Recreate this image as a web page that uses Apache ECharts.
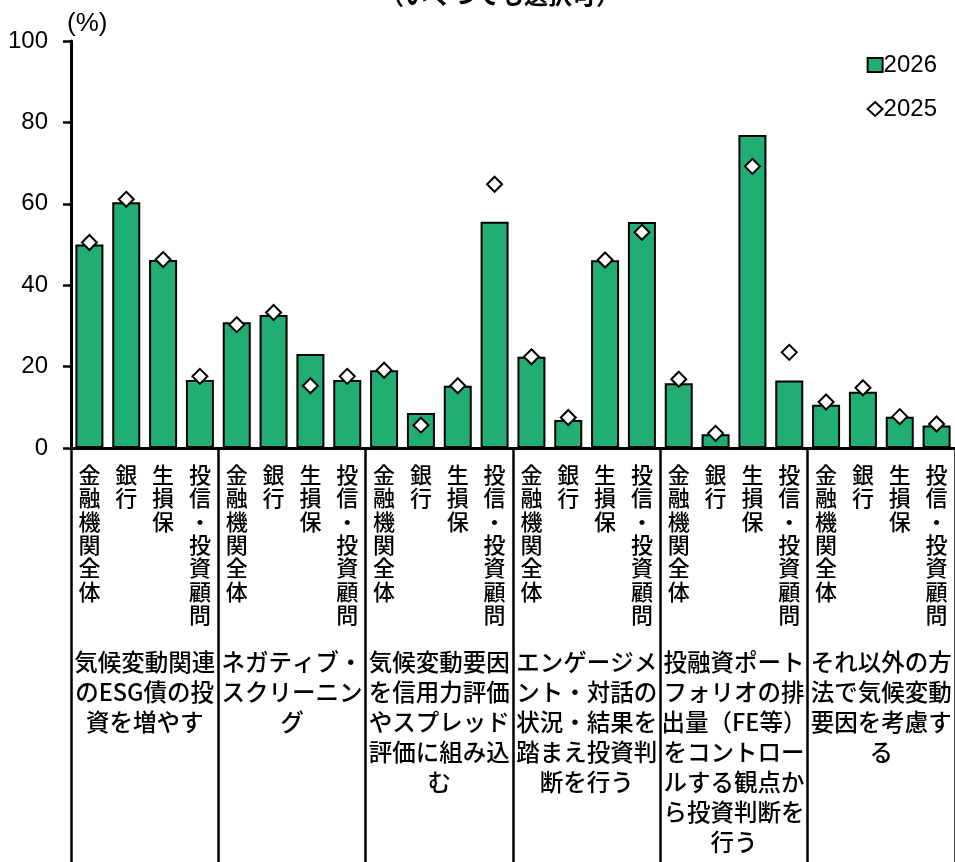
<!DOCTYPE html>
<html>
<head>
<meta charset="utf-8">
<script src="https://cdn.jsdelivr.net/npm/echarts@6/dist/echarts.min.js"></script>
<style>
html,body{margin:0;padding:0;background:#fff;}
#chart{width:955px;height:862px;}
</style>
</head>
<body>
<div id="chart"></div>
<script>
var titleText = '（いくつでも選択可）';
var subCategories = ['金融機関全体', '銀行', '生損保', '投信・投資顧問'];
var groups = [
  '気候変動関連\nのESG債の投\n資を増やす',
  'ネガティブ・\nスクリーニン\nグ',
  '気候変動要因\nを信用力評価\nやスプレッド\n評価に組み込\nむ',
  'エンゲージメ\nント・対話の\n状況・結果を\n踏まえ投資判\n断を行う',
  '投融資ポート\nフォリオの排\n出量（FE等）\nをコントロー\nルする観点か\nら投資判断を\n行う',
  'それ以外の方\n法で気候変動\n要因を考慮す\nる'
];
var values2026 = [50.0, 60.4, 46.2, 16.7,
                  30.9, 32.7, 23.1, 16.7,
                  19.1, 8.6, 15.3, 55.6,
                  22.4, 6.9, 46.1, 55.5,
                  15.9, 3.4, 76.9, 16.6,
                  10.6, 13.8, 7.7, 5.5];
var values2025 = [50.5, 61.1, 46.3, 17.6,
                  30.3, 33.3, 15.3, 17.6,
                  19.1, 5.6, 15.3, 64.8,
                  22.4, 7.5, 46.2, 53.0,
                  16.9, 3.6, 69.2, 23.5,
                  11.3, 14.8, 7.7, 5.9];
var yTicks = [0, 20, 40, 60, 80, 100];
var yUnit = '(%)';

var categories = [];
groups.forEach(function () { subCategories.forEach(function (c) { categories.push(c); }); });

var CJK = '"Noto Sans CJK JP", sans-serif';
var NUM = '"Liberation Sans", sans-serif';
var GREEN = '#20AE74';

var chart = echarts.init(document.getElementById('chart'));
chart.setOption({
  animation: false,
  backgroundColor: '#fff',
  title: {
    text: titleText,
    left: 375,
    top: -22,
    textStyle: {fontFamily: CJK, fontSize: 24, fontWeight: 'bold', color: '#000'}
  },
  legend: {
    orient: 'vertical',
    right: 13,
    top: 48,
    itemGap: 20,
    itemWidth: 15,
    itemHeight: 14,
    textStyle: {fontFamily: NUM, fontSize: 24, color: '#000', padding: [0, 0, 0, -4]},
    data: [
      {name: '2026', icon: 'rect', itemStyle: {color: GREEN, borderColor: '#000', borderWidth: 2}},
      {name: '2025', icon: 'diamond', itemStyle: {color: '#fff', borderColor: '#000', borderWidth: 2}}
    ]
  },
  grid: {left: 71, top: 41, width: 888, height: 407},
  xAxis: [
    {
      type: 'category',
      data: categories,
      axisLine: {show: true, lineStyle: {color: '#000', width: 3}},
      axisTick: {show: false},
      axisLabel: {
        interval: 0,
        margin: 15,
        fontFamily: CJK,
        fontSize: 22,
        fontWeight: 500,
        lineHeight: 23.3,
        color: '#000',
        formatter: function (v) { return v.split('').join('\n'); }
      }
    },
    {
      type: 'category',
      position: 'bottom',
      data: groups,
      axisLine: {show: false},
      axisTick: {show: true, length: 430, lineStyle: {color: '#000', width: 2.5}},
      axisLabel: {
        interval: 0,
        margin: 199,
        fontFamily: CJK,
        fontSize: 23.5,
        fontWeight: 500,
        lineHeight: 30,
        color: '#000',
        align: 'center'
      }
    }
  ],
  yAxis: {
    type: 'value',
    min: 0,
    max: 100,
    interval: 20,
    name: yUnit,
    nameLocation: 'end',
    nameGap: 4,
    nameTextStyle: {fontFamily: NUM, fontSize: 26, color: '#000', align: 'left', verticalAlign: 'bottom', padding: [0, 0, 0, -4]},
    axisLine: {show: true, lineStyle: {color: '#000', width: 3}},
    axisTick: {show: true, length: 8, lineStyle: {color: '#000', width: 2.5}},
    splitLine: {show: false},
    axisLabel: {
      margin: 23,
      fontFamily: NUM,
      fontSize: 24,
      color: '#000',
      formatter: function (v) { return yTicks.indexOf(v) >= 0 ? String(v) : ''; }
    }
  },
  series: [
    {
      name: '2026',
      type: 'bar',
      xAxisIndex: 0,
      data: values2026,
      barWidth: 28,
      itemStyle: {color: GREEN, borderColor: '#000', borderWidth: 2}
    },
    {
      name: '2025',
      type: 'scatter',
      xAxisIndex: 0,
      data: values2025,
      symbol: 'diamond',
      symbolSize: 15,
      z: 5,
      itemStyle: {color: '#fff', borderColor: '#000', borderWidth: 2, opacity: 1}
    }
  ]
});
</script>
</body>
</html>
